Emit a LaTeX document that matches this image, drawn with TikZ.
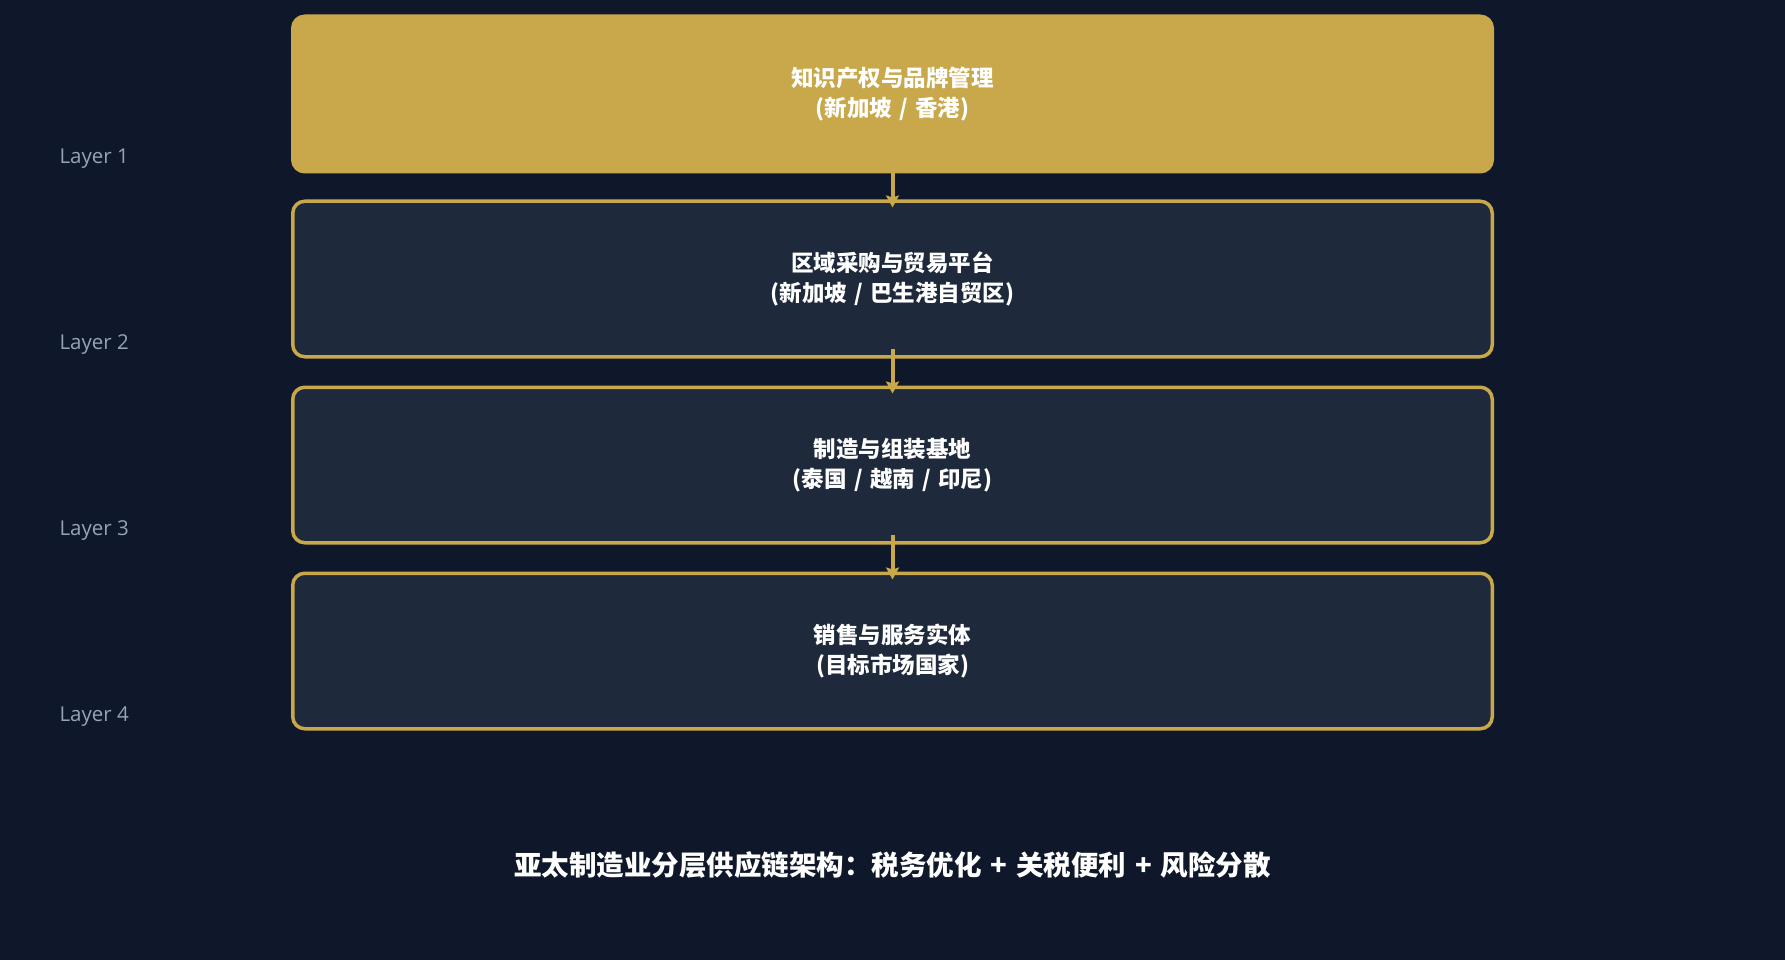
\documentclass[tikz,border=0pt]{standalone}
\usepackage{fontspec}
\setmainfont{Open Sans}
\newfontfamily\cjk[WordSpace=1.4]{Noto Sans CJK SC}
\usetikzlibrary{arrows.meta}
\definecolor{bg}{HTML}{0F172A}
\definecolor{boxfill}{HTML}{1E293B}
\definecolor{gold}{HTML}{C9A84C}
\definecolor{muted}{HTML}{94A3B8}
\begin{document}
\begin{tikzpicture}[x=1pt,y=-1pt,
  layerbox/.style={draw=gold, line width=3.5pt, rounded corners=12pt, fill=boxfill,
    minimum width=1199.5pt, minimum height=155.5pt, inner sep=0pt, align=center,
    text=white, font=\cjk\bfseries\fontsize{22.5}{29.5}\selectfont},
  topbox/.style={layerbox, fill=gold},
  layerlabel/.style={anchor=base west, text=muted, font=\fontsize{20.5}{24}\selectfont},
  flow/.style={draw=gold, line width=4pt, -{Stealth[length=12pt,width=13pt,inset=2pt]}}]
\fill[bg] (0,0) rectangle (1785,960);
\useasboundingbox (0,0) rectangle (1785,960);

\node[topbox] (ip) at (892.5,94) {知识产权与品牌管理\\(新加坡 / 香港)};
\node[layerbox] (trade) at (892.5,279) {区域采购与贸易平台\\(新加坡 / 巴生港自贸区)};
\node[layerbox] (mfg) at (892.5,465) {制造与组装基地\\(泰国 / 越南 / 印尼)};
\node[layerbox] (sales) at (892.5,651) {销售与服务实体\\(目标市场国家)};

\node[layerlabel] (lay1) at (56,164) {Layer 1};
\node[layerlabel] (lay2) at (56,349) {Layer 2};
\node[layerlabel] (lay3) at (56,535) {Layer 3};
\node[layerlabel] (lay4) at (56,721) {Layer 4};

\draw[flow] ([yshift=10pt]ip.south) -- ([yshift=-8pt]trade.north);
\draw[flow] ([yshift=10pt]trade.south) -- ([yshift=-8pt]mfg.north);
\draw[flow] ([yshift=10pt]mfg.south) -- ([yshift=-8pt]sales.north);

\node[text=white, font=\cjk\bfseries\fontsize{27.5}{33}\selectfont] (title) at (892.5,865)
  {亚太制造业分层供应链架构：税务优化 + 关税便利 + 风险分散};
\end{tikzpicture}
\end{document}
